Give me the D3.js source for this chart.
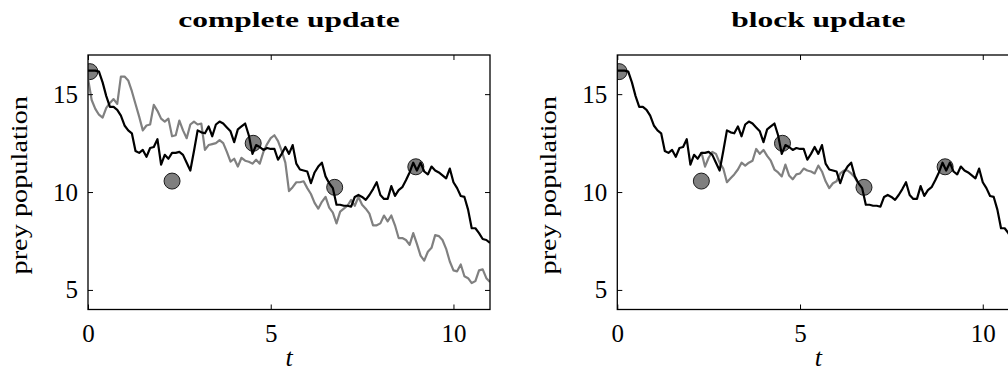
<!DOCTYPE html>
<html>
<head>
<meta charset="utf-8">
<script src="https://cdn.jsdelivr.net/npm/d3@7/dist/d3.min.js"></script>
<style>
  html, body { margin: 0; padding: 0; background: #fff; }
  svg { display: block; }
  text { font-family: "Liberation Serif", "DejaVu Serif", serif; fill: #000; }
</style>
</head>
<body>
<svg id="chart" width="1008" height="376"></svg>
<script>
// Sampling interval of the prey trajectories
const dt = 0.1;

// True prey population, sampled every dt from t = 0 to t = 11
const truePrey = [
  16.2, 16.2, 16.2, 16.15, 15.6, 14.9, 14.35, 14.35, 14.2, 13.9,
  13.4, 13.15, 13.0, 12.1, 12.0, 12.15, 11.8, 12.25, 12.3, 12.7,
  11.4, 11.9, 11.7, 12.0, 12.0, 12.05, 11.9, 11.5, 11.1, 12.1,
  13.15, 13.05, 13.0, 13.35, 12.85, 13.45, 13.6, 13.5, 13.3, 13.1,
  12.55, 13.2, 13.35, 13.5, 12.9, 11.95, 12.4, 12.3, 12.15, 12.25,
  12.2, 12.2, 11.65, 11.95, 12.3, 11.95, 12.4, 11.45, 11.15, 11.1,
  11.05, 10.45, 11.0, 11.3, 11.5, 10.8, 10.45, 10.2, 9.35, 9.35,
  9.3, 9.3, 9.25, 9.75, 9.85, 9.75, 9.6, 9.85, 10.15, 10.5,
  9.85, 9.65, 9.65, 10.3, 9.8, 10.1, 10.25, 10.6, 11.0, 11.5,
  11.1, 11.5, 11.05, 10.9, 11.3, 11.1, 11.0, 10.85, 10.7, 11.2,
  10.5, 10.2, 9.8, 9.75, 9.1, 8.15, 8.15, 7.9, 7.6, 7.55,
  7.4
];

// Sampled trajectory after a complete update (t = 0 .. 11)
const completePrey = [
  15.8, 14.7, 14.25, 13.95, 13.8, 14.3, 14.55, 14.75, 14.5, 15.9,
  15.9, 15.7, 15.15, 14.5, 13.85, 13.15, 13.4, 13.45, 14.45, 14.15,
  13.75, 13.6, 13.75, 12.85, 12.9, 13.65, 13.15, 12.75, 13.45, 13.6,
  13.45, 13.5, 12.15, 12.4, 12.45, 12.5, 12.65, 12.5, 12.05, 11.55,
  11.7, 11.3, 11.75, 11.6, 11.55, 11.45, 11.65, 11.45, 12.05, 12.45,
  12.75, 12.9, 12.6, 12.1, 11.5, 10.05, 10.25, 10.5, 10.5, 10.55,
  10.2, 9.9, 9.45, 9.15, 9.5, 9.75, 9.2, 8.95, 8.4, 9.0,
  9.15, 9.3, 9.6, 9.3, 9.75, 9.35, 9.15, 8.9, 8.3, 8.3,
  8.4, 8.8, 8.5, 8.8, 8.3, 7.65, 7.65, 7.55, 7.3, 7.9,
  7.35, 6.75, 6.5, 6.95, 7.15, 7.8, 7.75, 7.55, 7.1, 6.45,
  6.0, 5.95, 6.3, 5.7, 5.6, 5.35, 5.45, 6.0, 6.05, 5.6,
  5.4
];

// Sampled trajectory after a block update, only between two observations
const blockStart = 2.3;
const blockPrey = [
  12.05, 11.3, 11.75, 12.05, 11.95, 11.5, 11.2, 10.5, 10.7, 10.9,
  11.15, 11.5, 11.35, 11.5, 11.6, 12.2, 11.95, 12.15, 11.85, 11.6,
  11.15, 11.0, 10.8, 11.4, 10.85, 10.65, 10.9, 10.95, 11.2, 11.1,
  11.05, 10.95, 11.35, 11.05, 10.55, 10.2, 10.45, 10.55, 10.95, 11.1,
  11.1, 10.95, 10.75, 10.4, 10.2, 10.25
];

// Observations
const obsTime = [0.05, 2.3, 4.52, 6.75, 8.97];
const obsPrey = [16.15, 10.56, 12.49, 10.24, 11.29];

// Axis ticks
const xTicks = [0, 5, 10];
const yTicks = [5, 10, 15];
const xDomain = [0, 11];
const yDomain = [4, 17];

const panelTitles = ["complete update", "block update"];

const toPoints = (vals, t0) => vals.map((v, i) => ({ t: t0 + i * dt, v }));

const panels = [
  { title: panelTitles[0], left: 88, sample: toPoints(completePrey, 0) },
  { title: panelTitles[1], left: 617.3, sample: toPoints(blockPrey, blockStart) }
];

const svg = d3.select("#chart");
const plotW = 402, plotTop = 55, plotBottom = 309.5;
const tickLen = 5;
const serif = '"Liberation Serif", "DejaVu Serif", serif';

// widen a text element horizontally (extended serif look)
const widen = (sel, factor) => {
  const n = sel.node();
  sel.attr("textLength", n.getComputedTextLength() * factor)
     .attr("lengthAdjust", "spacingAndGlyphs");
};

panels.forEach((p, pi) => {
  const x = d3.scaleLinear().domain(xDomain).range([p.left, p.left + plotW]);
  const y = d3.scaleLinear().domain(yDomain).range([plotBottom, plotTop]);
  const g = svg.append("g");

  const clipId = "clip" + pi;
  g.append("clipPath").attr("id", clipId)
    .append("rect").attr("x", p.left).attr("y", plotTop)
    .attr("width", plotW).attr("height", plotBottom - plotTop);

  const plot = g.append("g").attr("clip-path", `url(#${clipId})`);
  const line = d3.line().x(d => x(d.t)).y(d => y(d.v));

  // observation markers
  plot.selectAll("circle").data(obsTime.map((t, i) => ({ t, v: obsPrey[i] })))
    .join("circle")
    .attr("cx", d => x(d.t)).attr("cy", d => y(d.v)).attr("r", 8)
    .attr("fill", "#7f7f7f").attr("stroke", "#1a1a1a").attr("stroke-width", 1);

  // sampled trajectory (grey) and true trajectory (black)
  plot.append("path").datum(p.sample)
    .attr("d", line).attr("fill", "none")
    .attr("stroke", "#808080").attr("stroke-width", 2.2).attr("stroke-linejoin", "round");
  plot.append("path").datum(toPoints(truePrey, 0))
    .attr("d", line).attr("fill", "none")
    .attr("stroke", "#000").attr("stroke-width", 2.2).attr("stroke-linejoin", "round");

  // axes with inward ticks on all four sides
  const axB = d3.axisBottom(x).tickValues(xTicks).tickSizeInner(-tickLen).tickSizeOuter(0);
  const axT = d3.axisTop(x).tickValues(xTicks).tickSizeInner(-tickLen).tickSizeOuter(0).tickFormat("");
  const axL = d3.axisLeft(y).tickValues(yTicks).tickSizeInner(-tickLen).tickSizeOuter(0).tickPadding(10);
  const axR = d3.axisRight(y).tickValues(yTicks).tickSizeInner(-tickLen).tickSizeOuter(0).tickFormat("");

  const styleAxis = sel => {
    sel.attr("font-family", null);
    sel.select(".domain").remove();
    sel.selectAll("line").attr("stroke", "#000").attr("stroke-width", 1);
    sel.selectAll("text").style("font-family", serif).attr("font-size", 25).attr("fill", "#000");
  };
  g.append("g").attr("transform", `translate(0,${plotBottom})`).call(axB).call(styleAxis)
    .selectAll("text").attr("dy", null).attr("y", 342 - plotBottom);
  g.append("g").attr("transform", `translate(0,${plotTop})`).call(axT).call(styleAxis);
  g.append("g").attr("transform", `translate(${p.left},0)`).call(axL).call(styleAxis);
  g.append("g").attr("transform", `translate(${p.left + plotW},0)`).call(axR).call(styleAxis);

  // frame
  g.append("rect").attr("x", p.left).attr("y", plotTop)
    .attr("width", plotW).attr("height", plotBottom - plotTop)
    .attr("fill", "none").attr("stroke", "#000").attr("stroke-width", 1.3);

  // titles and labels
  g.append("text").attr("x", p.left + plotW / 2).attr("y", 27)
    .attr("text-anchor", "middle").attr("font-weight", "bold").attr("font-size", 21)
    .text(p.title).call(widen, 1.5);
  g.append("text").attr("x", p.left + plotW / 2).attr("y", 366)
    .attr("text-anchor", "middle").attr("font-style", "italic").attr("font-size", 26)
    .text("t");
  g.append("text")
    .attr("transform", `translate(${p.left - 61},${(plotTop + plotBottom) / 2 + 3}) rotate(-90)`)
    .attr("text-anchor", "middle").attr("font-size", 24)
    .text("prey population").call(widen, 1.18);
});
</script>
</body>
</html>
